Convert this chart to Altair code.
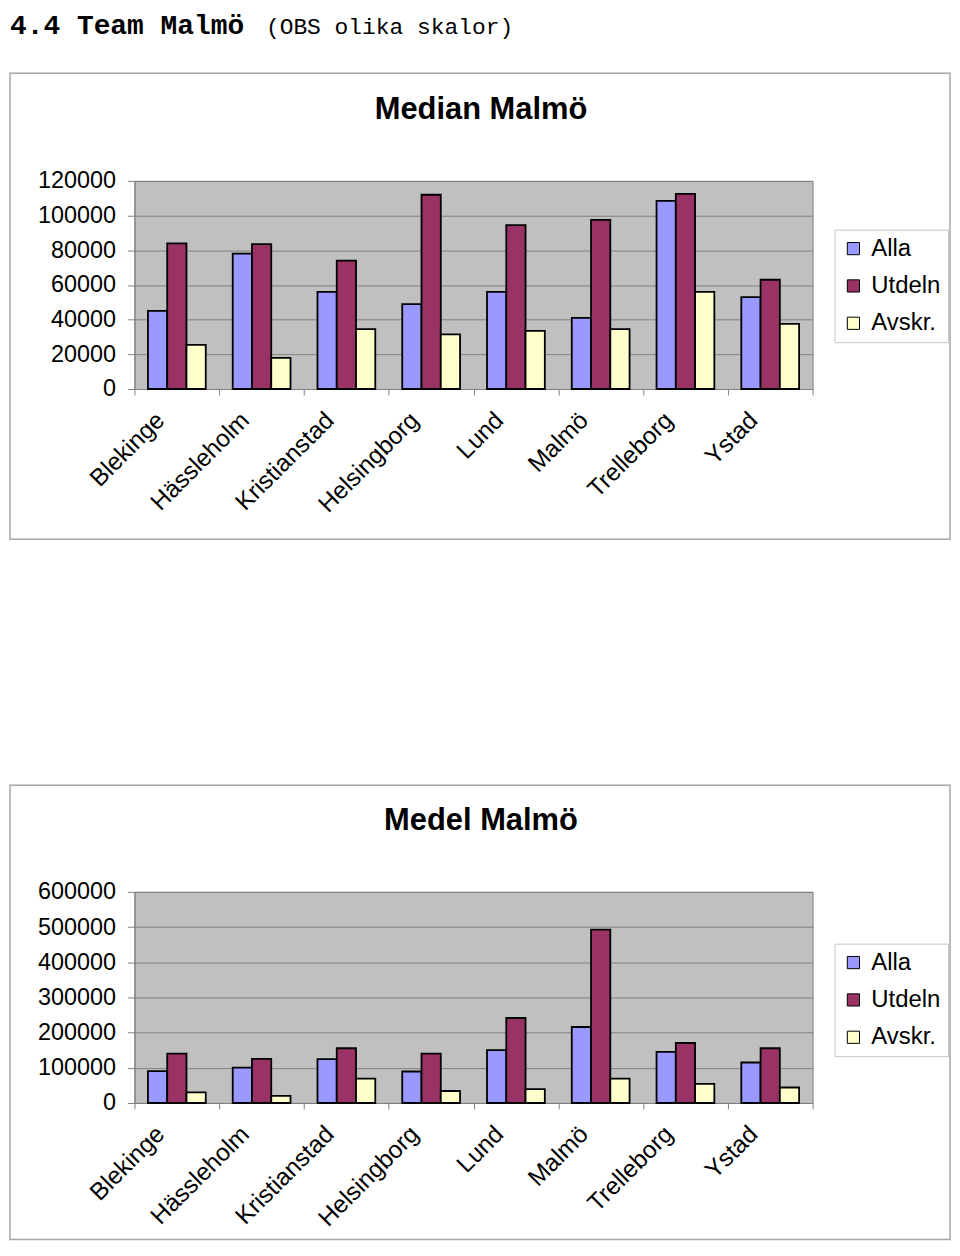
import altair as alt
import pandas as pd

categories = ["Blekinge", "Hässleholm", "Kristianstad", "Helsingborg",
              "Lund", "Malmö", "Trelleborg", "Ystad"]
series = ["Alla", "Utdeln", "Avskr."]
colors = ["#9999ff", "#993366", "#ffffcc"]

median_alla = [45000, 78000, 56000, 49000, 56000, 41000, 108500, 53000]
median_utdeln = [84000, 83500, 74000, 112000, 94500, 97500, 112500, 63000]
median_avskr = [25500, 18000, 34500, 31500, 33500, 34500, 56000, 37500]

medel_alla = [90500, 100500, 124500, 89500, 150000, 216000, 145000, 115000]
medel_utdeln = [140500, 125500, 155500, 140500, 241500, 492500, 170500, 155500]
medel_avskr = [30000, 20000, 69500, 34000, 39500, 69500, 54500, 44000]

SANS = "Liberation Sans"
MONO = "Liberation Mono"
W = 681


def long_df(alla, utdeln, avskr):
    rows = []
    for s, vals in zip(series, [alla, utdeln, avskr]):
        for c, v in zip(categories, vals):
            rows.append({"kommun": c, "serie": s, "varde": v})
    return pd.DataFrame(rows)


def one():
    return alt.Data(values=[{"k": 1}])


def panel(title, alla, utdeln, avskr, ymax, ystep, height, box_top, box_bottom,
          legend_y, heading=False):
    df = long_df(alla, utdeln, avskr)
    box = alt.Chart(one()).mark_rect(filled=False, stroke="#a6a6a6", strokeWidth=1.5).encode(
        x=alt.value(-125), x2=alt.value(819), y=alt.value(box_top), y2=alt.value(box_bottom)
    )
    bars = alt.Chart(df).mark_bar(stroke="black", strokeWidth=1.8).encode(
        x=alt.X("kommun:N", sort=categories,
                scale=alt.Scale(paddingInner=0, paddingOuter=0),
                axis=alt.Axis(title=None, labelAngle=-45, labelFontSize=24.5, labelFont=SANS,
                              labelColor="black", tickBand="extent", tickSize=6,
                              tickColor="#808080", domainColor="#808080",
                              labelPadding=13, labelOffset=-25)),
        xOffset=alt.XOffset("serie:N", sort=series,
                            scale=alt.Scale(paddingInner=0, paddingOuter=0.7)),
        y=alt.Y("varde:Q", scale=alt.Scale(domain=[0, ymax], nice=False),
                axis=alt.Axis(title=None, values=list(range(0, ymax + 1, ystep)), format="d",
                              grid=True, gridColor="#808080", domainColor="#808080",
                              tickColor="#808080", tickSize=7, labelFontSize=23.5,
                              labelFont=SANS, labelColor="black", labelPadding=12)),
        color=alt.Color("serie:N", sort=series,
                        scale=alt.Scale(domain=series, range=colors),
                        legend=alt.Legend(title=None, orient="none", legendX=703,
                                          legendY=legend_y, symbolType="square",
                                          symbolSize=150, symbolStrokeColor="black",
                                          symbolStrokeWidth=1, labelFontSize=24,
                                          labelFont=SANS, labelColor="black",
                                          strokeColor="#c8c8c8", padding=7,
                                          rowPadding=13.5, labelOffset=6)),
    )
    ttl = alt.Chart(one()).mark_text(text=title, font=SANS, fontSize=31, fontWeight="bold",
                                     align="center", baseline="alphabetic", color="black").encode(
        x=alt.value(348), y=alt.value(-62)
    )
    layers = [box, bars, ttl]
    if heading:
        h1 = alt.Chart(one()).mark_text(text="4.4 Team Malmö", font=MONO, fontSize=28,
                                        fontWeight="bold", align="left", baseline="top",
                                        color="black").encode(
            x=alt.value(-125), y=alt.value(-170))
        h2 = alt.Chart(one()).mark_text(text="(OBS olika skalor)", font=MONO, fontSize=23,
                                        align="left", baseline="alphabetic",
                                        color="black").encode(
            x=alt.value(132), y=alt.value(-170 + 22))
        layers += [h1, h2]
    return alt.layer(*layers).properties(width=W, height=height)


p1 = panel("Median Malmö", median_alla, median_utdeln, median_avskr, 120000, 20000, 209,
           -108, 360, 49, heading=True)
p2 = panel("Medel Malmö", medel_alla, medel_utdeln, medel_avskr, 600000, 100000, 212,
           -107, 349, 52)

chart = (
    alt.vconcat(p1, p2, spacing=243)
    .resolve_scale(color="independent")
    .resolve_legend(color="independent")
    .properties(padding=0)
    .configure_view(fill="#c0c0c0", stroke="#808080", strokeWidth=1)
)

chart.save("out.html", embed_options={"renderer": "svg", "actions": False})
